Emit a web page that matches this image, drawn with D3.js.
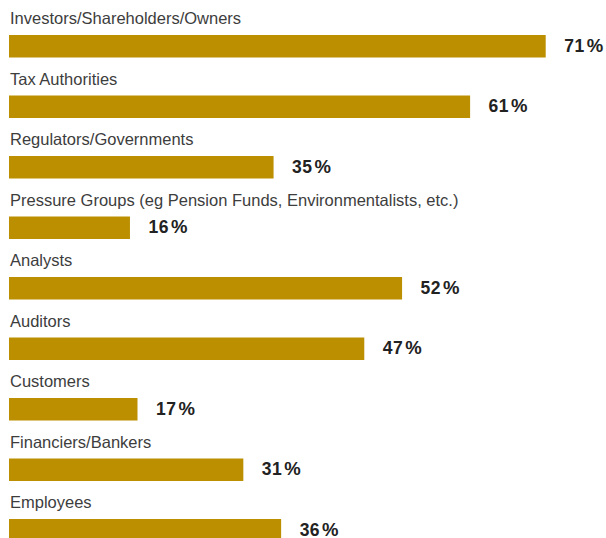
<!DOCTYPE html>
<html>
<head>
<meta charset="utf-8">
<script src="https://cdn.jsdelivr.net/npm/d3@7"></script>
<style>
  html, body { margin: 0; padding: 0; background: #fff; }
  svg { display: block; }
</style>
</head>
<body>
<svg id="chart" width="606" height="538"></svg>
<script>
// Stakeholder groups and share of respondents (%)
const categories = [
  "Investors/Shareholders/Owners",
  "Tax Authorities",
  "Regulators/Governments",
  "Pressure Groups (eg Pension Funds, Environmentalists, etc.)",
  "Analysts",
  "Auditors",
  "Customers",
  "Financiers/Bankers",
  "Employees"
];
const values = [71, 61, 35, 16, 52, 47, 17, 31, 36];
const valueLabels = ["71", "61", "35", "16", "52", "47", "17", "31", "36"];

const svg = d3.select("#chart");
const barColor = "#bc8f00";
const barHeight = 22.5;

const x = d3.scaleLinear().domain([0, 71]).range([9, 545.7]);
// Row index -> top of bar
const y = d3.scaleLinear().domain([0, categories.length - 1]).range([35, 35 + 60.5 * (categories.length - 1)]);

const rows = svg.selectAll("g.row")
  .data(categories.map((c, i) => ({ cat: c, val: values[i], label: valueLabels[i], i })))
  .join("g")
  .attr("class", "row")
  .attr("transform", d => `translate(0,${y(d.i)})`);

rows.append("text")
  .attr("x", 10)
  .attr("y", -11)
  .attr("fill", "#3d3d3d")
  .style("font-family", "'Liberation Sans', Arial, Helvetica, sans-serif")
  .style("font-size", "16.5px")
  .text(d => d.cat);

rows.append("rect")
  .attr("x", x(0))
  .attr("y", 0)
  .attr("width", d => x(d.val) - x(0))
  .attr("height", barHeight)
  .attr("fill", barColor);

const vt = rows.append("text")
  .attr("x", d => x(d.val) + 18.5)
  .attr("y", 16.5)
  .attr("fill", "#222")
  .style("font-family", "'Liberation Sans', Arial, Helvetica, sans-serif")
  .style("font-size", "17.5px")
  .style("font-weight", "bold");
vt.append("tspan").style("letter-spacing", "0.5px").text(d => d.label);
vt.append("tspan").attr("dx", 2).style("font-size", "18.5px").text("%");
</script>
</body>
</html>
